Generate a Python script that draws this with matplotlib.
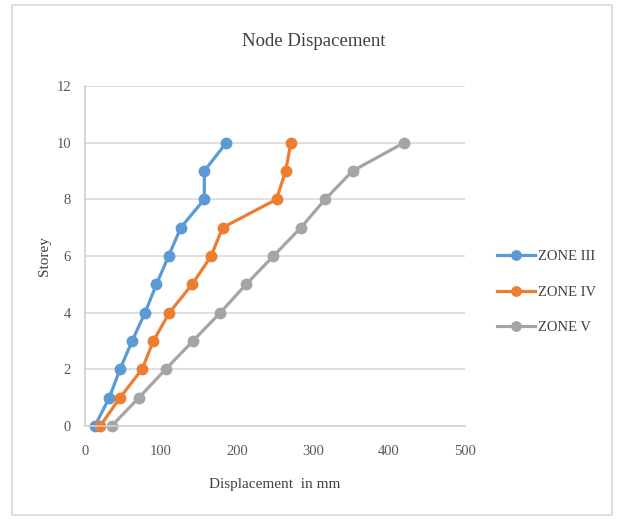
import matplotlib.pyplot as plt
from matplotlib.patches import Rectangle

storey = [0, 1, 2, 3, 4, 5, 6, 7, 8, 9, 10]
zone3 = [13, 32, 46, 62, 79, 94, 110, 126, 157, 157, 186]
zone4 = [20, 46, 75, 90, 111, 141, 166, 181, 252, 264, 271]
zone5 = [35, 71, 106, 142, 178, 212, 248, 284, 316, 352, 420]
labels = ['ZONE III', 'ZONE IV', 'ZONE V']
colors = ['#5B9BD5', '#ED7D31', '#A5A5A5']

plt.rcParams['font.family'] = ['Liberation Serif', 'DejaVu Serif']

fig = plt.figure(figsize=(6.17, 5.2), dpi=100)
fig.patches.append(Rectangle((12 / 617, 5 / 520), 600 / 617, 510 / 520,
                             transform=fig.transFigure, fill=False,
                             edgecolor='#D9D9D9', linewidth=1.2))

ax = fig.add_axes([85 / 617, 94 / 520, 380 / 617, 340 / 520])
for xs, lab, c in zip([zone3, zone4, zone5], labels, colors):
    ax.plot(xs, storey, color=c, lw=2.3, marker='o', markersize=7.5, label=lab,
            clip_on=False)

ax.set_xlim(0, 500)
ax.set_ylim(0, 12)
ax.set_xticks(range(0, 501, 100))
ax.set_yticks(range(0, 13, 2))
ax.grid(axis='y', color='#D9D9D9', lw=1.2)
ax.set_axisbelow(True)
for s in ['top', 'right']:
    ax.spines[s].set_visible(False)
for s in ['left', 'bottom']:
    ax.spines[s].set_color('#D0D0D0')
    ax.spines[s].set_linewidth(1.2)
ax.tick_params(length=0, labelsize=10.5, labelcolor='#595959')
ax.tick_params(axis='x', pad=14)
ax.tick_params(axis='y', pad=10)

fig.text(314 / 617, 478 / 520, 'Node Dispacement', fontsize=13.5, color='#404040',
         ha='center', va='center')
ax.set_xlabel('Displacement  in mm', fontsize=11, color='#404040', labelpad=14)
ax.set_ylabel('Storey', fontsize=11, color='#404040', labelpad=4)

fig.legend(loc='center left', bbox_to_anchor=(484 / 617, (520 - 292) / 520), frameon=False,
           fontsize=10.5, labelcolor='#404040', handlelength=2.6, handletextpad=0.2,
           labelspacing=1.55, markerscale=0.9)

plt.savefig('out.png', dpi=100)
